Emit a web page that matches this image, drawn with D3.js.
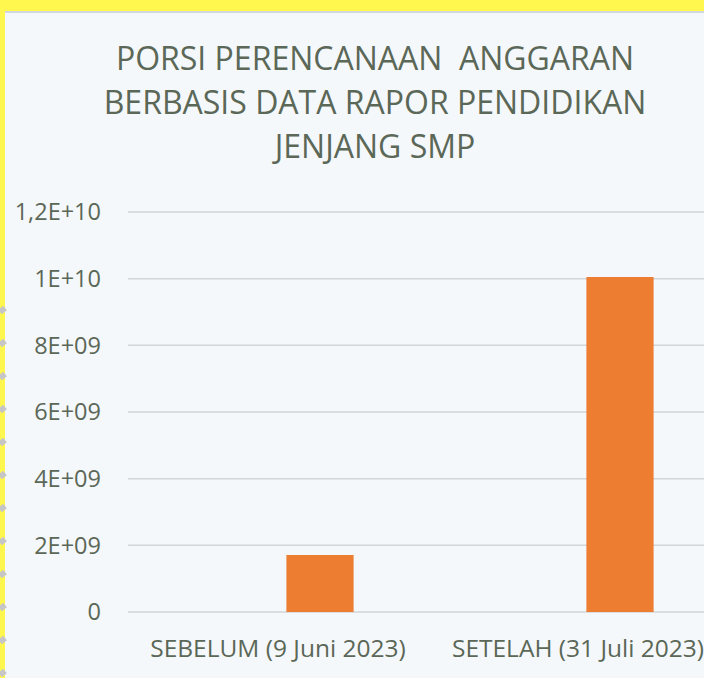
<!DOCTYPE html>
<html>
<head>
<meta charset="utf-8">
<script src="https://cdn.jsdelivr.net/npm/d3@7"></script>
<style>
  html, body { margin: 0; padding: 0; background: #f4f8fb; }
  svg { display: block; }
</style>
</head>
<body>
<svg id="chart"></svg>
<script>
// Data grafik
const categories = ["SEBELUM (9 Juni 2023)", "SETELAH (31 Juli 2023)"];
const seriesNames = ["Seri 1", "Seri 2"];
const series1 = [0, 0];              // seri kosong (tidak terlihat)
const series2 = [1.71e9, 1.005e10];  // porsi anggaran
const tickValues = [0, 2e9, 4e9, 6e9, 8e9, 1e10, 1.2e10];
const tickLabels = ["0", "2E+09", "4E+09", "6E+09", "8E+09", "1E+10", "1,2E+10"];
const titleLines = ["PORSI PERENCANAAN  ANGGARAN", "BERBASIS DATA RAPOR PENDIDIKAN", "JENJANG SMP"];

const width = 704, height = 678;
const svg = d3.select("#chart")
    .attr("width", width)
    .attr("height", height);

const textColor = "#5b6757";
const font = "'Open Sans', sans-serif";

// Latar
svg.append("rect")
    .attr("width", width).attr("height", height)
    .attr("fill", "#f4f8fb");

// Skala
const y = d3.scaleLinear()
    .domain([0, 1.2e10])
    .range([612, 212]);

const x0 = d3.scaleBand()
    .domain(categories)
    .range([128, 728])
    .padding(0);

const x1 = d3.scaleBand()
    .domain(seriesNames)
    .range([x0.bandwidth() / 2 - 84, x0.bandwidth() / 2 + 84])
    .paddingInner(0.2)
    .paddingOuter(0.1);

// Garis grid
svg.append("g")
    .selectAll("line")
    .data(tickValues)
    .enter()
    .append("line")
    .attr("x1", 128)
    .attr("x2", width)
    .attr("y1", d => y(d))
    .attr("y2", d => y(d))
    .attr("stroke", "#d2d6d7")
    .attr("stroke-width", 1.5);

// Label sumbu Y
svg.append("g")
    .selectAll("text")
    .data(tickValues)
    .enter()
    .append("text")
    .attr("x", 101)
    .attr("y", d => y(d))
    .attr("dy", "0.35em")
    .attr("text-anchor", "end")
    .attr("font-family", font)
    .attr("font-size", "23.5px")
    .attr("fill", textColor)
    .text((d, i) => tickLabels[i]);

// Batang
const rows = categories.map((c, i) => ({ cat: c, values: [series1[i], series2[i]] }));
svg.append("g")
    .selectAll("g")
    .data(rows)
    .enter()
    .append("g")
    .attr("transform", d => `translate(${x0(d.cat)},0)`)
    .selectAll("rect")
    .data(d => d.values.map((v, j) => ({ key: seriesNames[j], v: v })))
    .enter()
    .append("rect")
    .attr("x", d => x1(d.key))
    .attr("width", x1.bandwidth())
    .attr("y", d => y(d.v))
    .attr("height", d => y(0) - y(d.v))
    .attr("fill", "#ED7D31");

// Label kategori
svg.append("g")
    .selectAll("text")
    .data(categories)
    .enter()
    .append("text")
    .attr("x", d => x0(d) + x0.bandwidth() / 2)
    .attr("y", 657)
    .attr("text-anchor", "middle")
    .attr("font-family", font)
    .attr("font-size", "24.5px")
    .attr("fill", textColor)
    .text(d => d);

// Judul
svg.append("g")
    .selectAll("text")
    .data(titleLines)
    .enter()
    .append("text")
    .attr("x", 375)
    .attr("y", (d, i) => 70 + i * 44)
    .attr("text-anchor", "middle")
    .attr("font-family", font)
    .attr("font-size", "32px")
    .attr("fill", textColor)
    .attr("xml:space", "preserve")
    .style("white-space", "pre")
    .text(d => d);

// Bingkai kuning
svg.append("rect").attr("x", 0).attr("y", 0).attr("width", width).attr("height", 11).attr("fill", "#fff64e");
svg.append("rect").attr("x", 0).attr("y", 11).attr("width", width).attr("height", 2).attr("fill", "#d3d8dd");
svg.append("rect").attr("x", 0).attr("y", 0).attr("width", 5).attr("height", height).attr("fill", "#fff64e");

// Garis putus-putus di tepi kiri
svg.append("g")
    .selectAll("line")
    .data(d3.range(310, height, 33))
    .enter()
    .append("line")
    .attr("x1", 0)
    .attr("x2", 5)
    .attr("y1", d => d + 2)
    .attr("y2", d => d - 2)
    .attr("stroke", "#c6c6c6")
    .attr("stroke-width", 6);
</script>
</body>
</html>
